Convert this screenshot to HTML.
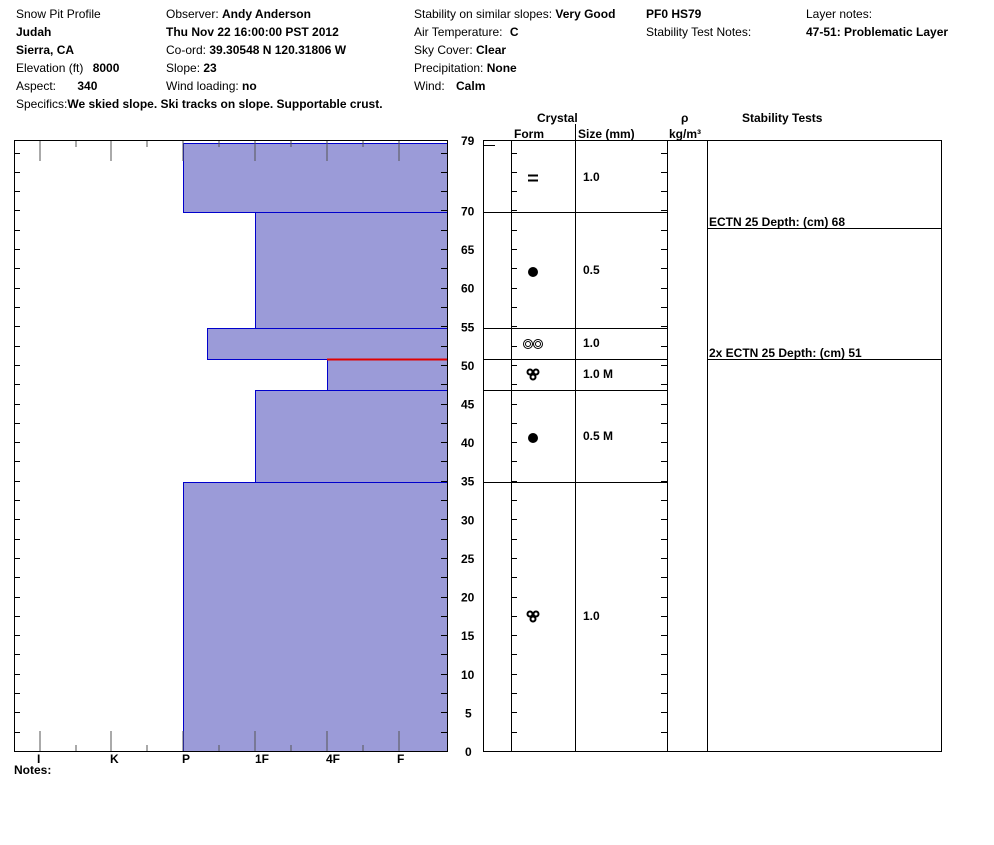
<!DOCTYPE html>
<html><head><style>
body{margin:0;background:#fff;}
svg text{font-family:"Liberation Sans",Arial,sans-serif;font-size:12px;fill:#000;}
.b{font-weight:bold;}
</style></head><body>
<svg width="994" height="840" xmlns="http://www.w3.org/2000/svg">
<g>
<text x="16" y="18">Snow Pit Profile</text>
<text x="16" y="36" class="b">Judah</text>
<text x="16" y="54" class="b">Sierra, CA</text>
<text x="16" y="72">Elevation (ft) <tspan class="b" dx="6">8000</tspan></text>
<text x="16" y="90">Aspect: <tspan class="b" dx="18">340</tspan></text>
<text x="16" y="108">Specifics:<tspan class="b">We skied slope. Ski tracks on slope. Supportable crust.</tspan></text>
<text x="166" y="18">Observer: <tspan class="b">Andy Anderson</tspan></text>
<text x="166" y="36" class="b">Thu Nov 22 16:00:00 PST 2012</text>
<text x="166" y="54">Co-ord: <tspan class="b">39.30548 N 120.31806 W</tspan></text>
<text x="166" y="72">Slope: <tspan class="b">23</tspan></text>
<text x="166" y="90">Wind loading: <tspan class="b">no</tspan></text>
<text x="414" y="18">Stability on similar slopes: <tspan class="b">Very Good</tspan></text>
<text x="414" y="36">Air Temperature: <tspan class="b" dx="4">C</tspan></text>
<text x="414" y="54">Sky Cover: <tspan class="b">Clear</tspan></text>
<text x="414" y="72">Precipitation: <tspan class="b">None</tspan></text>
<text x="414" y="90">Wind: <tspan class="b" dx="8">Calm</tspan></text>
<text x="646" y="18" class="b">PF0 HS79</text>
<text x="646" y="36">Stability Test Notes:</text>
<text x="806" y="18">Layer notes:</text>
<text x="806" y="36" class="b">47-51: Problematic Layer</text>
</g>
<g stroke="#0000cc" stroke-width="1" fill="#9b9bd8">
<rect x="183.5" y="143.5" width="264" height="69"/>
<rect x="255.5" y="212.5" width="192" height="116"/>
<rect x="207.5" y="328.5" width="240" height="31"/>
<rect x="327.5" y="359.5" width="120" height="31"/>
<rect x="255.5" y="390.5" width="192" height="92"/>
<rect x="183.5" y="482.5" width="264" height="269"/>
</g>
<line x1="327" y1="359.5" x2="447" y2="359.5" stroke="#e00000" stroke-width="2"/>
<path d="M14.5 751 V140.5 H447.5 V751" fill="none" stroke="#000"/>
<line x1="14" y1="751.5" x2="448" y2="751.5" stroke="#000"/>
<g stroke="#555">
<line x1="40" y1="141" x2="40" y2="161"/><line x1="111" y1="141" x2="111" y2="161"/><line x1="183" y1="141" x2="183" y2="161"/><line x1="255" y1="141" x2="255" y2="161"/><line x1="327" y1="141" x2="327" y2="161"/><line x1="399" y1="141" x2="399" y2="161"/>
<line x1="76" y1="141" x2="76" y2="147"/><line x1="147" y1="141" x2="147" y2="147"/><line x1="219" y1="141" x2="219" y2="147"/><line x1="291" y1="141" x2="291" y2="147"/><line x1="363" y1="141" x2="363" y2="147"/>
<line x1="40" y1="751" x2="40" y2="731"/><line x1="111" y1="751" x2="111" y2="731"/><line x1="183" y1="751" x2="183" y2="731"/><line x1="255" y1="751" x2="255" y2="731"/><line x1="327" y1="751" x2="327" y2="731"/><line x1="399" y1="751" x2="399" y2="731"/>
<line x1="76" y1="751" x2="76" y2="745"/><line x1="147" y1="751" x2="147" y2="745"/><line x1="219" y1="751" x2="219" y2="745"/><line x1="291" y1="751" x2="291" y2="745"/><line x1="363" y1="751" x2="363" y2="745"/>
</g>
<g id="ticks" stroke="#000"></g>
<g>
<text x="37" y="763" class="b">I</text><text x="110" y="763" class="b">K</text><text x="182" y="763" class="b">P</text><text x="255" y="763" class="b">1F</text><text x="326" y="763" class="b">4F</text><text x="397" y="763" class="b">F</text>
<text x="14" y="774" class="b">Notes:</text>
<text x="461" y="145" class="b">79</text>
</g>
<g id="depthlabels"></g>
<rect x="483.5" y="140.5" width="458" height="611" fill="none" stroke="#000"/>
<g stroke="#000">
<line x1="511.5" y1="141" x2="511.5" y2="751"/>
<line x1="575.5" y1="124" x2="575.5" y2="751"/>
<line x1="667.5" y1="141" x2="667.5" y2="751"/>
<line x1="707.5" y1="141" x2="707.5" y2="751"/>
<line x1="483" y1="145.5" x2="495" y2="145.5"/>
<line x1="483" y1="212.5" x2="667" y2="212.5"/>
<line x1="483" y1="328.5" x2="667" y2="328.5"/>
<line x1="483" y1="359.5" x2="667" y2="359.5"/>
<line x1="483" y1="390.5" x2="667" y2="390.5"/>
<line x1="483" y1="482.5" x2="667" y2="482.5"/>
<line x1="707" y1="228.5" x2="941" y2="228.5"/>
<line x1="707" y1="359.5" x2="941" y2="359.5"/>
</g>
<g>
<text x="537" y="122" class="b">Crystal</text>
<text x="514" y="138" class="b">Form</text>
<text x="578" y="138" class="b">Size (mm)</text>
<text x="681" y="122" class="b">ρ</text>
<text x="669" y="138" class="b">kg/m³</text>
<text x="742" y="122" class="b">Stability Tests</text>
<text x="583" y="181" class="b">1.0</text>
<text x="583" y="274" class="b">0.5</text>
<text x="583" y="347" class="b">1.0</text>
<text x="583" y="378" class="b">1.0 M</text>
<text x="583" y="440" class="b">0.5 M</text>
<text x="583" y="620" class="b">1.0</text>
<text x="709" y="226" class="b">ECTN 25   Depth: (cm) 68</text>
<text x="709" y="357" class="b">2x ECTN 25   Depth: (cm) 51</text>
</g>
<g stroke="#000" fill="none">
<line x1="528" y1="175.5" x2="538" y2="175.5" stroke-width="2"/>
<line x1="528" y1="180.5" x2="538" y2="180.5" stroke-width="2"/>
<circle cx="533" cy="272" r="4.5" fill="#000"/>
<circle cx="533" cy="438" r="4.5" fill="#000"/>
<circle cx="528" cy="344" r="4.5"/><circle cx="538" cy="344" r="4.5"/>
<circle cx="528" cy="344" r="2.5"/><circle cx="538" cy="344" r="2.5"/>
<g stroke-width="2"><circle cx="530" cy="372" r="2.5"/><circle cx="536" cy="372" r="2.5"/><circle cx="533" cy="377" r="2.5"/></g>
<g stroke-width="2"><circle cx="530" cy="614" r="2.5"/><circle cx="536" cy="614" r="2.5"/><circle cx="533" cy="619" r="2.5"/></g>
</g>
<script>
var t=document.getElementById('ticks'),dl=document.getElementById('depthlabels'),ns='http://www.w3.org/2000/svg';
function L(x1,y1,x2,y2){var l=document.createElementNS(ns,'line');l.setAttribute('x1',x1);l.setAttribute('y1',y1);l.setAttribute('x2',x2);l.setAttribute('y2',y2);t.appendChild(l);}
for(var d=2.5;d<79;d+=2.5){var y=Math.round(751-d*7.722)+0.5;L(14,y,20,y);L(441,y,447,y);L(511,y,517,y);L(661,y,667,y);}
for(var d=0;d<=70;d+=5){var y=751-d*7.722;var tx=document.createElementNS(ns,'text');tx.setAttribute('x',d<10?465:461);tx.setAttribute('y',y+5);tx.setAttribute('class','b');tx.textContent=d;dl.appendChild(tx);}
</script>
</svg>
</body></html>
